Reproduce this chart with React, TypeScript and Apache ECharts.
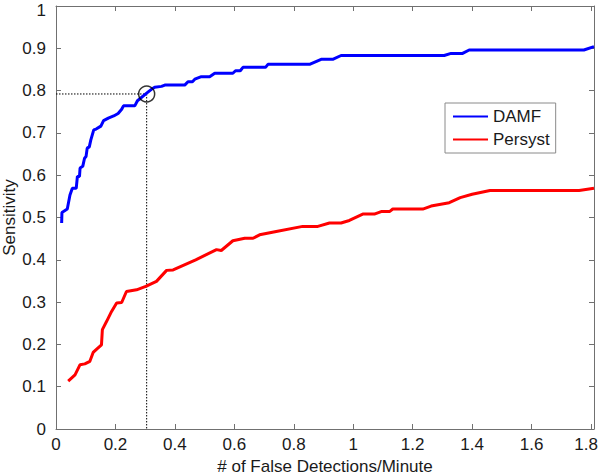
import React, { useEffect, useRef } from "react";
import * as echarts from "echarts";

const damfPoints: [number, number][] = [
  [0.019, 0.487], [0.02, 0.512], [0.038, 0.52], [0.047, 0.553], [0.055, 0.569],
  [0.068, 0.569], [0.072, 0.597], [0.079, 0.597], [0.081, 0.617], [0.09, 0.621],
  [0.096, 0.64], [0.101, 0.644], [0.105, 0.664], [0.112, 0.667], [0.117, 0.683],
  [0.127, 0.707], [0.135, 0.709], [0.151, 0.716], [0.16, 0.729], [0.176, 0.735],
  [0.194, 0.74], [0.209, 0.746], [0.221, 0.756], [0.227, 0.764], [0.265, 0.764],
  [0.274, 0.776], [0.305, 0.794], [0.321, 0.803], [0.332, 0.808], [0.355, 0.81],
  [0.366, 0.813], [0.433, 0.813], [0.444, 0.821], [0.459, 0.821], [0.467, 0.827],
  [0.489, 0.833], [0.517, 0.833], [0.534, 0.841], [0.595, 0.841], [0.604, 0.847],
  [0.62, 0.847], [0.629, 0.855], [0.705, 0.855], [0.713, 0.862], [0.853, 0.862],
  [0.892, 0.874], [0.931, 0.874], [0.959, 0.883], [1.306, 0.883], [1.329, 0.888],
  [1.368, 0.888], [1.39, 0.896], [1.776, 0.896], [1.81, 0.904],
];

const persystPoints: [number, number][] = [
  [0.041, 0.113], [0.064, 0.128], [0.081, 0.152], [0.097, 0.154], [0.114, 0.16],
  [0.125, 0.181], [0.137, 0.189], [0.153, 0.199], [0.156, 0.235], [0.17, 0.254],
  [0.187, 0.278], [0.204, 0.298], [0.221, 0.299], [0.237, 0.325], [0.271, 0.329],
  [0.302, 0.337], [0.338, 0.349], [0.372, 0.375], [0.394, 0.376], [0.47, 0.4],
  [0.54, 0.424], [0.556, 0.422], [0.595, 0.445], [0.635, 0.451], [0.663, 0.451],
  [0.685, 0.459], [0.741, 0.467], [0.83, 0.479], [0.881, 0.479], [0.92, 0.487],
  [0.959, 0.487], [0.987, 0.493], [1.032, 0.508], [1.071, 0.508], [1.094, 0.514],
  [1.122, 0.514], [1.133, 0.52], [1.234, 0.52], [1.262, 0.527], [1.323, 0.535],
  [1.36, 0.547], [1.4, 0.555], [1.46, 0.564], [1.76, 0.564], [1.81, 0.569],
];

// Operating point marked with a circle and dotted guide lines
const operatingX = 0.305;
const operatingY = 0.792;

const xMin = 0;
const xMax = 1.81;
const xInterval = 0.2;
const xLastTick = 1.8;
const yMin = 0;
const yMax = 1;
const yInterval = 0.1;

const FONT = "'Liberation Sans', Arial, Helvetica, sans-serif";
const AXIS_COLOR = "#707070";
const TEXT_COLOR = "#1a1a1a";

const fmt = (step: number, edge?: number) => (v: number) => {
  const r = v / step;
  if (Math.abs(r - Math.round(r)) > 1e-6) return "";
  const s = String(+v.toFixed(1));
  if (edge !== undefined && Math.abs(v - edge) < 1e-9) return "{t|" + s + "}";
  return s;
};

export default function App() {
  const ref = useRef<HTMLDivElement>(null);
  useEffect(() => {
    if (!ref.current) return;
    const chart = echarts.init(ref.current, undefined, { renderer: "svg" });
    const axisCommon = {
      axisLine: { show: true, onZero: false, lineStyle: { color: AXIS_COLOR, width: 1 } },
      axisTick: { show: true, inside: true, length: 5, lineStyle: { color: AXIS_COLOR } },
      splitLine: { show: false },
    };
    chart.setOption({
      animation: false,
      backgroundColor: "#ffffff",
      textStyle: { fontFamily: FONT },
      grid: { left: 56, top: 6, right: 6, bottom: 46, containLabel: false, outerBoundsMode: "none" },
      xAxis: [
        {
          type: "value", min: xMin, max: xMax, interval: xInterval, position: "bottom",
          ...axisCommon,
          axisLabel: {
            formatter: fmt(xInterval, xLastTick), color: TEXT_COLOR, fontSize: 17, fontFamily: FONT, margin: 7,
            rich: { t: { color: TEXT_COLOR, fontSize: 17, fontFamily: FONT, padding: [0, 10, 0, 0] } },
          },
          name: "# of False Detections/Minute", nameLocation: "middle", nameGap: 29, nameMoveOverlap: false,
          nameTextStyle: { color: TEXT_COLOR, fontSize: 17, fontFamily: FONT },
        },
        {
          type: "value", min: xMin, max: xMax, interval: xInterval, position: "top",
          ...axisCommon, axisLabel: { show: false },
        },
      ],
      yAxis: [
        {
          type: "value", min: yMin, max: yMax, interval: yInterval, position: "left",
          ...axisCommon,
          axisLabel: {
            formatter: fmt(yInterval, yMax), color: TEXT_COLOR, fontSize: 17, fontFamily: FONT, margin: 10,
            rich: { t: { color: TEXT_COLOR, fontSize: 17, fontFamily: FONT, padding: [9, 0, 0, 0] } },
          },
          name: "Sensitivity", nameLocation: "middle", nameGap: 38, nameMoveOverlap: false,
          nameTextStyle: { color: TEXT_COLOR, fontSize: 17, fontFamily: FONT },
        },
        {
          type: "value", min: yMin, max: yMax, interval: yInterval, position: "right",
          ...axisCommon, axisLabel: { show: false },
        },
      ],
      legend: {
        data: ["DAMF", "Persyst"],
        orient: "vertical",
        left: 445,
        top: 103,
        itemWidth: 35,
        itemHeight: 14,
        itemGap: 6,
        padding: [5, 6, 5, 7],
        borderColor: "#8a8a8a",
        borderWidth: 1,
        backgroundColor: "#ffffff",
        itemStyle: { opacity: 0 },
        textStyle: { color: TEXT_COLOR, fontSize: 17, fontFamily: FONT },
      },
      series: [
        {
          type: "line", name: "guideH", silent: true, symbol: "none",
          data: [[xMin, operatingY], [operatingX, operatingY]],
          lineStyle: { color: "#000", width: 1, type: [1.5, 1.5] },
          z: 1,
        },
        {
          type: "line", name: "guideV", silent: true, symbol: "none",
          data: [[operatingX, operatingY], [operatingX, yMin]],
          lineStyle: { color: "#000", width: 1, type: [1.5, 1.5] },
          z: 1,
        },
        {
          type: "line", name: "DAMF", symbol: "none", data: damfPoints,
          lineStyle: { color: "#0000ff", width: 3 }, itemStyle: { color: "#0000ff" },
          z: 3,
        },
        {
          type: "line", name: "Persyst", symbol: "none", data: persystPoints,
          lineStyle: { color: "#ff0000", width: 3 }, itemStyle: { color: "#ff0000" },
          z: 3,
        },
        {
          type: "scatter", name: "operating", silent: true,
          data: [[operatingX, operatingY]], symbol: "circle", symbolSize: 16,
          itemStyle: { color: "rgba(0,0,0,0)", borderColor: "#000", borderWidth: 1.5 },
          z: 4,
        },
      ],
    });
    return () => chart.dispose();
  }, []);
  return (
    <div
      ref={ref}
      style={{ position: "absolute", left: 0, top: 0, width: 600, height: 475, background: "#fff" }}
    />
  );
}
